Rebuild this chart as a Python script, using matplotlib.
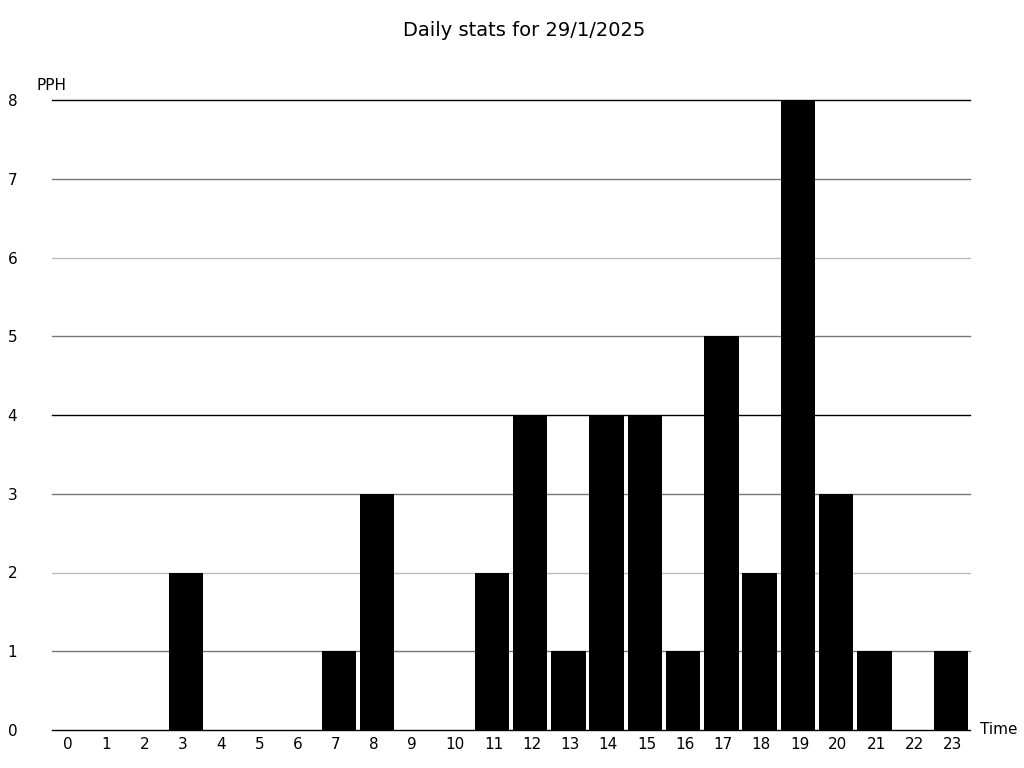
import matplotlib
matplotlib.use("Agg")
import matplotlib.pyplot as plt
import matplotlib.transforms as mtransforms
import numpy as np

hours = list(range(24))
pph = [0, 0, 0, 2, 0, 0, 0, 1, 3, 0, 0, 2, 4, 1, 4, 4, 1, 5, 2, 8, 3, 1, 0, 1]
y_ticks = list(range(9))
grid_colors = ['black', '#777777', '#bbbbbb', '#777777',
               'black', '#777777', '#bbbbbb', '#777777', 'black']

fig = plt.figure(figsize=(10.24, 7.68), dpi=100)
ax = fig.add_axes([52/1024, 38/768, 918/1024, 630/768])

for v, c in zip(y_ticks, grid_colors):
    ax.axhline(v, color=c, linewidth=1, zorder=1, clip_on=False)

x = np.arange(len(hours))
ax.bar(x, pph, width=0.9, color='black', zorder=2)

ax.set_xlim(-0.5, 23.5)
ax.set_ylim(0, 8)
ax.set_xticks(x)
ax.set_xticklabels([str(h) for h in hours], fontsize=11, ha='left')
ax.set_yticks(y_ticks)
ax.set_yticklabels([str(v) for v in y_ticks], fontsize=11)
ax.tick_params(axis='x', length=0, pad=5)
ax.tick_params(axis='y', length=0, pad=25)
# labels sit left-aligned a little right of each slot's start
shift = mtransforms.ScaledTranslation(-8/100, 0, fig.dpi_scale_trans)
for lbl in ax.get_xticklabels():
    lbl.set_transform(lbl.get_transform() + shift)
for s in ax.spines.values():
    s.set_visible(False)

fig.text(37/1024, 1 - 85/768, 'PPH', fontsize=11, va='center', ha='left')
fig.text(980/1024, 1 - 730/768, 'Time', fontsize=11, va='center', ha='left')
fig.text(0.512, 1 - 31/768, 'Daily stats for 29/1/2025', fontsize=14,
         ha='center', va='center')

fig.savefig('out.png', dpi=100)
